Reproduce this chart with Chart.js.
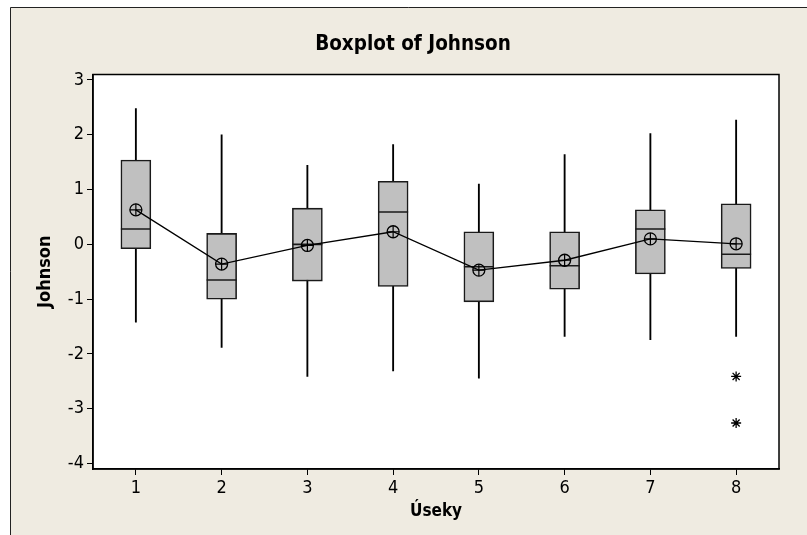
<!DOCTYPE html>
<html><head><meta charset="utf-8">
<script src="https://cdn.jsdelivr.net/npm/chart.js@4.4.1/dist/chart.umd.min.js"></script>
<style>html,body{margin:0;padding:0;background:#fff}#wrap{width:807px;height:535px;position:relative}</style>
</head><body><div id="wrap"><canvas id="c"></canvas></div>
<script>
const categories = ['1','2','3','4','5','6','7','8'];
const whiskerLow  = [-1.42,-1.88,-2.41,-2.31,-2.44,-1.68,-1.74,-1.68];
const q1          = [-0.08,-1.00,-0.67,-0.77,-1.05,-0.82,-0.54,-0.44];
const median      = [0.28,-0.65,0.00,0.59,-0.41,-0.39,0.28,-0.18];
const q3          = [1.54,0.20,0.66,1.15,0.23,0.23,0.63,0.74];
const whiskerHigh = [2.48,2.00,1.44,1.82,1.10,1.64,2.02,2.27];
const means       = [0.63,-0.36,-0.02,0.23,-0.47,-0.29,0.10,0.01];
const outlierCategory = ['8','8'];
const outlierValues   = [-2.41,-3.26];
const yTicks = [-4,-3,-2,-1,0,1,2,3];

const FONT = "'DejaVu Sans Condensed', 'DejaVu Sans', sans-serif";

const framePlugin = {
  id: 'frame',
  beforeDraw(chart) {
    const ctx = chart.ctx, a = chart.chartArea;
    ctx.save();
    ctx.fillStyle = '#ffffff';
    ctx.fillRect(0, 0, chart.width, chart.height);
    ctx.fillStyle = '#EFEBE1';
    ctx.fillRect(10, 7, chart.width - 10, chart.height - 7);
    ctx.strokeStyle = '#222';
    ctx.lineWidth = 1;
    ctx.beginPath();
    ctx.moveTo(10.5, chart.height); ctx.lineTo(10.5, 7.5); ctx.lineTo(chart.width, 7.5);
    ctx.stroke();
    ctx.fillStyle = '#ffffff';
    ctx.fillRect(a.left, a.top, a.right - a.left, a.bottom - a.top);
    ctx.restore();
  },
  afterDraw(chart) {
    const ctx = chart.ctx, a = chart.chartArea;
    ctx.save();
    ctx.strokeStyle = '#000';
    ctx.lineWidth = 1.5;
    ctx.strokeRect(a.left, a.top, a.right - a.left, a.bottom - a.top);
    ctx.restore();
  }
};

new Chart(document.getElementById('c'), {
  type: 'bar',
  data: {
    labels: categories,
    datasets: [
      { type: 'bar', label: 'Whisker', data: categories.map((c, i) => [whiskerLow[i], whiskerHigh[i]]),
        backgroundColor: '#000', borderWidth: 0, barThickness: 1.2, grouped: false, order: 6 },
      { type: 'bar', label: 'IQR box', data: categories.map((c, i) => [q1[i], q3[i]]),
        backgroundColor: '#C0C0C0', borderColor: '#1a1a1a', borderWidth: 1.6, borderSkipped: false,
        barThickness: 30, grouped: false, order: 5 },
      { type: 'line', label: 'Median', data: median, showLine: false, pointStyle: 'line',
        pointRadius: 15, pointBorderColor: '#1a1a1a', pointBorderWidth: 1.6, order: 4 },
      { type: 'line', label: 'Mean', data: means, borderColor: '#000', borderWidth: 1.3,
        pointStyle: 'circle', pointRadius: 6, pointBackgroundColor: 'rgba(0,0,0,0)',
        pointBorderColor: '#000', pointBorderWidth: 1.3, order: 3 },
      { type: 'line', label: 'Mean cross', data: means, showLine: false, pointStyle: 'cross',
        pointRadius: 6, pointBorderColor: '#000', pointBorderWidth: 1.2, order: 2 },
      { type: 'line', label: 'Outliers', data: outlierCategory.map((c, i) => ({ x: c, y: outlierValues[i] })),
        showLine: false, pointStyle: 'star', pointRadius: 5, pointBorderColor: '#000',
        pointBorderWidth: 1.3, order: 1 }
    ]
  },
  options: {
    responsive: true,
    maintainAspectRatio: false,
    animation: false,
    layout: { padding: { left: 47, right: 28, top: 0, bottom: 0 } },
    plugins: {
      legend: { display: false },
      tooltip: { enabled: false },
      title: { display: true, text: 'Boxplot of Johnson', color: '#000',
        font: { family: FONT, size: 20.5, weight: 'bold' }, padding: { top: 32.5, bottom: 17.4 } }
    },
    scales: {
      x: {
        type: 'category', offset: true,
        grid: { offset: false, drawOnChartArea: false, drawTicks: true, tickLength: 6, color: '#000', lineWidth: 1 },
        border: { display: true, color: '#000', width: 1.5 },
        ticks: { color: '#000', font: { family: FONT, size: 18 }, padding: 3, maxRotation: 0 },
        title: { display: true, text: 'Úseky', color: '#000', font: { family: FONT, size: 17, weight: 'bold' },
          padding: { top: 0, bottom: 13 } },
        afterFit(s) { s.height = 66; }
      },
      y: {
        type: 'linear', min: -4.1, max: 3.1,
        afterBuildTicks(s) { s.ticks = yTicks.map(v => ({ value: v })); },
        grid: { drawOnChartArea: false, drawTicks: true, tickLength: 6, color: '#000', lineWidth: 1 },
        border: { display: true, color: '#000', width: 1.5 },
        ticks: { color: '#000', font: { family: FONT, size: 18 }, padding: 3 },
        title: { display: true, text: 'Johnson', color: '#000', font: { family: FONT, size: 18, weight: 'bold' },
          padding: { top: -12.5, bottom: 0 } },
        afterFit(s) { s.width = 46; }
      }
    }
  },
  plugins: [framePlugin]
});
</script></body></html>
